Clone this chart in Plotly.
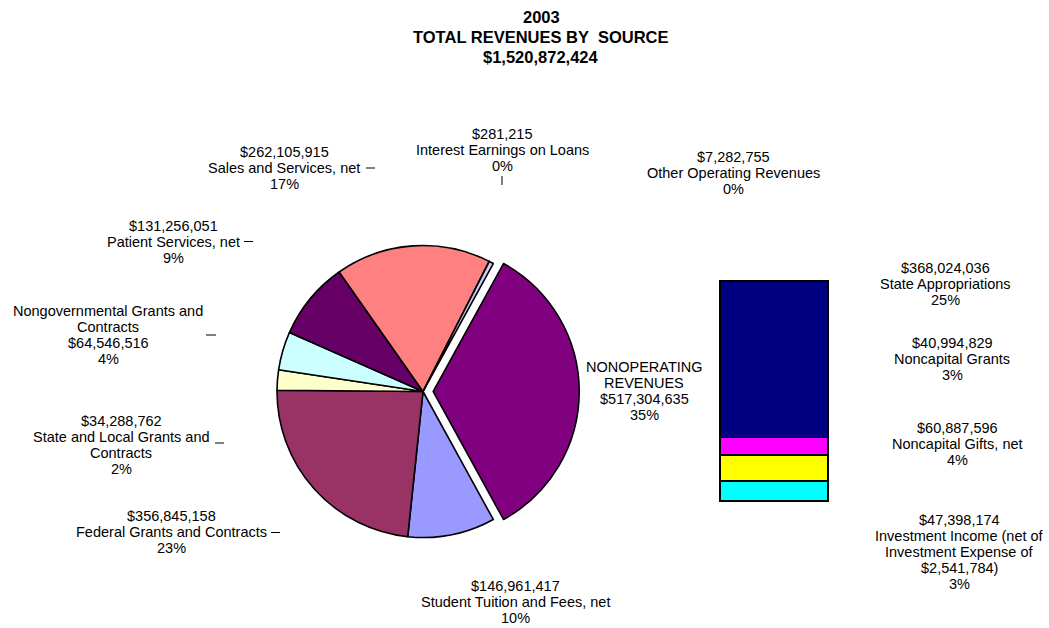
import plotly.graph_objects as go

# Revenue sources shown in the pie (clockwise, starting with the exploded slice)
pie_labels = [
    "NONOPERATING<br>REVENUES",
    "Student Tuition and Fees, net",
    "Federal Grants and Contracts",
    "State and Local Grants and<br>Contracts",
    "Nongovernmental Grants and<br>Contracts",
    "Patient Services, net",
    "Sales and Services, net",
    "Interest Earnings on Loans",
    "Other Operating Revenues",
]
pie_values = [517304635, 146961417, 356845158, 34288762, 64546516,
              131256051, 262105915, 281215, 7282755]
pie_pcts = ["35%", "10%", "23%", "2%", "4%", "9%", "17%", "0%", "0%"]
pie_colors = ["#800080", "#9999FF", "#993366", "#FFFFCC", "#CCFFFF",
              "#660066", "#FF8080", "#0066CC", "#CCCCFF"]

# Breakdown of nonoperating revenues (bottom to top of the stacked bar)
bar_labels = [
    "Investment Income (net of<br>Investment Expense of<br>$2,541,784)",
    "Noncapital Gifts, net",
    "Noncapital Grants",
    "State Appropriations",
]
bar_values = [47398174, 60887596, 40994829, 368024036]
bar_pcts = ["3%", "4%", "3%", "25%"]
bar_colors = ["#00FFFF", "#FFFF00", "#FF00FF", "#000080"]

year = "2003"
total = sum(pie_values)

W, H = 1049, 628
FONT = "Liberation Sans, Arial, sans-serif"


def px(x):
    return x / W


def py(y):
    return 1 - y / H


fig = go.Figure()

# Pie: geometry in pixels
cx, cy, r, pull = 423, 391.5, 146, 0.07
half = r * (1 + pull)
fig.add_trace(go.Pie(
    labels=[l.replace("<br>", " ") for l in pie_labels],
    values=pie_values,
    sort=False,
    direction="clockwise",
    rotation=90 - 180 * pie_values[0] / total,
    pull=[pull] + [0] * (len(pie_values) - 1),
    marker=dict(colors=pie_colors, line=dict(color="black", width=1.6)),
    textinfo="none",
    hoverinfo="label+value+percent",
    showlegend=False,
    domain=dict(x=[px(cx - half), px(cx + half)],
                y=[py(cy + half), py(cy - half)]),
))

# Stacked bar of the nonoperating slice
bx0, bx1, by0, by1 = 720, 828, 501, 281
pad = 0.1
bh = (by0 - by1)
for lab, val, col in zip(bar_labels, bar_values, bar_colors):
    fig.add_trace(go.Bar(
        x=[0], y=[val], width=1,
        name=lab.replace("<br>", " "),
        marker=dict(color=col, line=dict(color="black", width=1.6)),
        showlegend=False,
        xaxis="x", yaxis="y",
    ))

bar_total = sum(bar_values)
ypad = 0.03
fig.update_layout(
    barmode="stack",
    xaxis=dict(domain=[px(bx0 - (bx1 - bx0) * pad), px(bx1 + (bx1 - bx0) * pad)],
               range=[-0.5 - pad, 0.5 + pad], visible=False, fixedrange=True),
    yaxis=dict(domain=[py(by0 + bh * ypad), py(by1 - bh * ypad)],
               range=[-bar_total * ypad, bar_total * (1 + ypad)],
               visible=False, fixedrange=True),
)

annotations = []


def label(x, y, text, size=14.5, bold=False, spacing=16):
    """Centered multi-line text block; each line placed separately."""
    lines = text.split("<br>")
    top = y - spacing * (len(lines) - 1) / 2
    for k, line in enumerate(lines):
        annotations.append(dict(
            x=px(x), y=py(top + k * spacing), xref="paper", yref="paper",
            text=f"<b>{line}</b>" if bold else line,
            showarrow=False, xanchor="center", yanchor="middle",
            font=dict(family=FONT, size=size, color="black"),
        ))


# Title
label(541, 37, f"{year}<br>TOTAL REVENUES BY  SOURCE<br>${total:,}",
      size=16.5, bold=True, spacing=20)

# Pie labels: (index, x, y, value-first?)
pie_pos = [
    (0, 644, 390.5, False),
    (1, 515, 602, True),
    (2, 171, 532, True),
    (3, 121, 444.5, True),
    (4, 108, 335, False),
    (5, 173, 241.5, True),
    (6, 284, 168, True),
    (7, 502, 150, True),
    (8, 733, 173, True),
]
for i, x, y, value_first in pie_pos:
    v = f"${pie_values[i]:,}"
    if value_first:
        txt = f"{v}<br>{pie_labels[i]}<br>{pie_pcts[i]}"
    else:
        txt = f"{pie_labels[i]}<br>{v}<br>{pie_pcts[i]}"
    label(x, y, txt)

# Bar labels
bar_pos = [(0, 959, 552), (1, 957, 444), (2, 952, 359), (3, 945, 284)]
for i, x, y in bar_pos:
    label(x, y, f"${bar_values[i]:,}<br>{bar_labels[i]}<br>{bar_pcts[i]}")

# Short leader ticks beside labels
ticks = [
    (366, 168, 375, 168),
    (244, 241.5, 253, 241.5),
    (206, 335, 216, 335),
    (215, 443, 224, 443),
    (271, 532.5, 280, 532.5),
    (502, 176, 502, 185),
]
shapes = [dict(type="line", xref="paper", yref="paper",
               x0=px(a), y0=py(b), x1=px(c), y1=py(d),
               line=dict(color="black", width=1)) for a, b, c, d in ticks]

fig.update_layout(
    width=W, height=H,
    margin=dict(l=0, r=0, t=0, b=0),
    paper_bgcolor="white", plot_bgcolor="white",
    annotations=annotations,
    shapes=shapes,
    font=dict(family=FONT),
)

fig.write_html("out.html")
